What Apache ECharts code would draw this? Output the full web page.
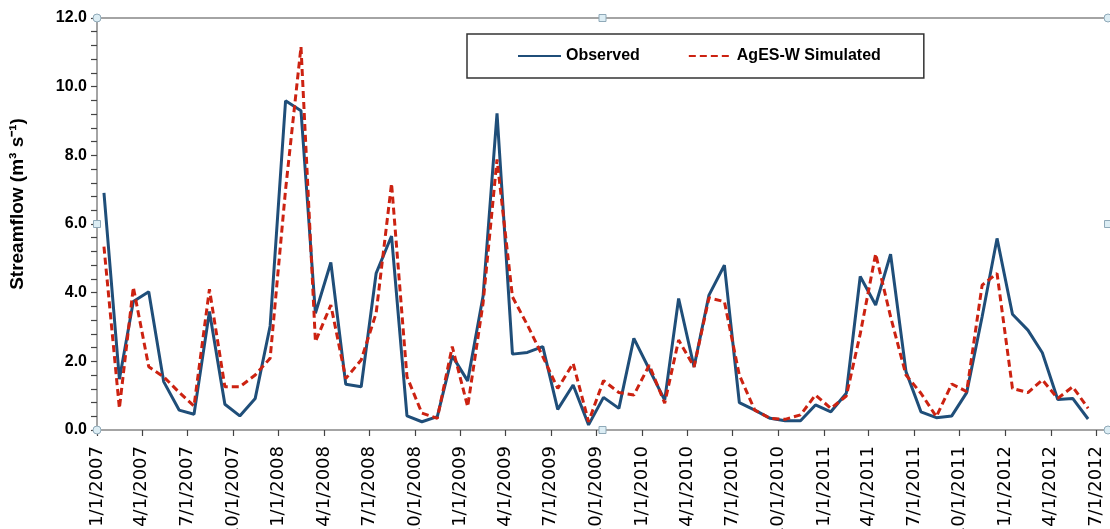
<!DOCTYPE html>
<html>
<head>
<meta charset="utf-8">
<script src="https://cdn.jsdelivr.net/npm/echarts@6/dist/echarts.min.js"></script>
<style>
  html, body { margin: 0; padding: 0; background: #fff; }
  #chart { width: 1110px; height: 529px; }
</style>
</head>
<body>
<div id="chart"></div>
<script>
// monthly values, Jan 2007 .. Jun 2012 (plotted mid-month)
const months = [];
for (let y = 2007; y <= 2012; y++) {
  for (let m = 1; m <= 12; m++) {
    if (y === 2012 && m > 6) break;
    months.push(m + '/15/' + y);
  }
}

const observed = [
  6.91, 1.48, 3.74, 4.03, 1.41, 0.58, 0.46, 3.45, 0.75, 0.41, 0.92, 3.03,
  9.59, 9.30, 3.40, 4.88, 1.33, 1.26, 4.56, 5.65, 0.41, 0.24, 0.39, 2.16,
  1.43, 3.90, 9.22, 2.21, 2.26, 2.43, 0.60, 1.31, 0.15, 0.95, 0.63, 2.67,
  1.77, 0.87, 3.83, 1.84, 3.93, 4.80, 0.80, 0.58, 0.34, 0.27, 0.27, 0.73,
  0.53, 1.07, 4.47, 3.64, 5.12, 1.70, 0.53, 0.36, 0.41, 1.09, 3.30, 5.58,
  3.37, 2.91, 2.25, 0.89, 0.92, 0.32
];

const simulated = [
  5.34, 0.63, 4.16, 1.84, 1.55, 1.10, 0.70, 4.10, 1.26, 1.26, 1.60, 2.09,
  7.00, 11.16, 2.57, 3.64, 1.50, 2.04, 3.40, 7.18, 1.55, 0.49, 0.34, 2.43,
  0.68, 3.70, 7.88, 3.88, 3.06, 2.14, 1.21, 1.94, 0.24, 1.44, 1.09, 1.02,
  1.89, 0.78, 2.62, 1.84, 3.85, 3.74, 1.60, 0.58, 0.34, 0.31, 0.44, 1.02,
  0.63, 0.99, 2.80, 5.13, 3.30, 1.60, 1.07, 0.39, 1.34, 1.12, 4.22, 4.56,
  1.21, 1.09, 1.46, 0.92, 1.26, 0.63
];

const tickLabels = [
  '1/1/2007', '4/1/2007', '7/1/2007', '10/1/2007',
  '1/1/2008', '4/1/2008', '7/1/2008', '10/1/2008',
  '1/1/2009', '4/1/2009', '7/1/2009', '10/1/2009',
  '1/1/2010', '4/1/2010', '7/1/2010', '10/1/2010',
  '1/1/2011', '4/1/2011', '7/1/2011', '10/1/2011',
  '1/1/2012', '4/1/2012', '7/1/2012'
];

// dates as day numbers (UTC) so the x axis is a plain value axis
function dayNum(s) {
  const p = s.split('/').map(Number);
  return Date.UTC(p[2], p[0] - 1, p[1]) / 86400000;
}
function toMDY(v) {
  const d = new Date(Math.round(v) * 86400000);
  return (d.getUTCMonth() + 1) + '/' + d.getUTCDate() + '/' + d.getUTCFullYear();
}

const tickValues = tickLabels.map(dayNum);
const xMin = tickValues[0];
const xMax = dayNum('7/25/2012');

const obsData = months.map((m, i) => [dayNum(m), observed[i]]);
const simData = months.map((m, i) => [dayNum(m), simulated[i]]);

const G = { left: 97, top: 18, right: 1108, bottom: 430 };
const handleStyle = { fill: '#dcedf4', stroke: '#8fa9b8', lineWidth: 1 };
function circ(x, y) { return { type: 'circle', shape: { cx: x, cy: y, r: 4 }, style: handleStyle, z: 100 }; }
function sq(x, y) { return { type: 'rect', shape: { x: x - 3.5, y: y - 3.5, width: 7, height: 7 }, style: handleStyle, z: 100 }; }
const midX = (G.left + G.right) / 2, midY = (G.top + G.bottom) / 2;

const chart = echarts.init(document.getElementById('chart'));
chart.setOption({
  backgroundColor: '#fff',
  animation: false,
  grid: {
    left: G.left, top: G.top, width: G.right - G.left, height: G.bottom - G.top,
    containLabel: false, outerBoundsMode: 'none'
  },
  legend: {
    left: 467, top: 34,
    padding: [14, 43, 14, 50],
    itemGap: 48, itemWidth: 43, itemHeight: 14,
    borderColor: '#333', borderWidth: 1.5,
    itemStyle: { opacity: 0 },
    textStyle: { fontFamily: 'Liberation Sans', fontWeight: 'bold', fontSize: 16, color: '#000' },
    data: ['Observed', 'AgES-W Simulated']
  },
  xAxis: [{
    type: 'value',
    min: xMin, max: xMax,
    splitLine: { show: false },
    axisLine: { lineStyle: { color: '#868686', width: 1.5 } },
    axisTick: { show: true, length: 6, customValues: tickValues, lineStyle: { color: '#444', width: 1.2 } },
    axisLabel: {
      customValues: tickValues,
      rotate: 90, margin: 16,
      fontFamily: 'DejaVu Sans', fontSize: 18, color: '#000',
      formatter: v => toMDY(v)
    }
  }, {
    type: 'value', position: 'top',
    min: xMin, max: xMax,
    splitLine: { show: false },
    axisLine: { show: true, lineStyle: { color: '#868686', width: 1.5 } },
    axisTick: { show: false }, axisLabel: { show: false }
  }],
  yAxis: {
    type: 'value', min: 0, max: 12, interval: 2,
    name: 'Streamflow (m³ s⁻¹)',
    nameLocation: 'middle', nameRotate: 90, nameGap: 70,
    nameTextStyle: { fontFamily: 'Liberation Sans', fontWeight: 'bold', fontSize: 19, color: '#000', padding: [0, 0, 0, 40] },
    splitLine: { show: false },
    axisLine: { show: true, lineStyle: { color: '#868686', width: 1.5 } },
    axisTick: { show: true, length: 6, lineStyle: { color: '#444', width: 1.2 } },
    minorTick: { show: true, splitNumber: 5, length: 6, lineStyle: { color: '#444', width: 1.2 } },
    axisLabel: {
      margin: 10,
      fontFamily: 'Liberation Sans', fontWeight: 'bold', fontSize: 16, color: '#000',
      formatter: v => v.toFixed(1)
    }
  },
  series: [{
    name: 'Observed', type: 'line', xAxisIndex: 0,
    data: obsData, symbol: 'none',
    lineStyle: { color: '#1f4e79', width: 3 },
    itemStyle: { color: '#1f4e79' }
  }, {
    name: 'AgES-W Simulated', type: 'line', xAxisIndex: 0,
    data: simData, symbol: 'none',
    lineStyle: { color: '#cc2211', width: 3, type: [7, 4] },
    itemStyle: { color: '#cc2211' },
    z: 3
  }],
  graphic: [
    circ(G.left, G.top), sq(midX, G.top), circ(G.right, G.top),
    sq(G.left, midY), sq(G.right, midY),
    circ(G.left, G.bottom), sq(midX, G.bottom), circ(G.right, G.bottom)
  ]
});
</script>
</body>
</html>
